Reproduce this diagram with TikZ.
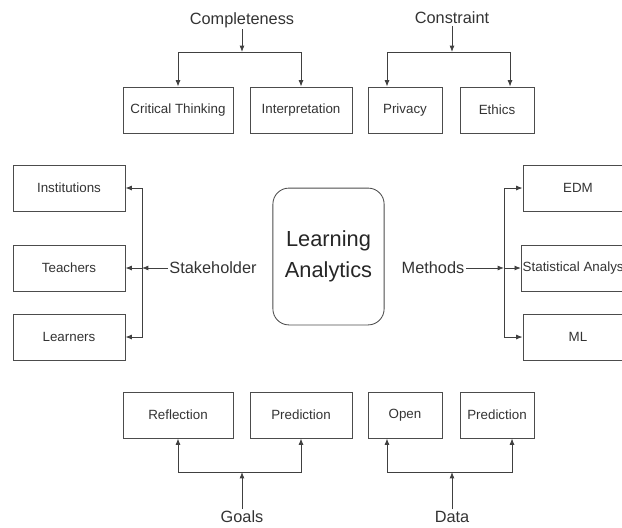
\documentclass[tikz,border=0pt]{standalone}
\usepackage{fontspec}
\setmainfont{Liberation Sans}
\usetikzlibrary{arrows.meta}

\begin{document}
\begin{tikzpicture}[x=0.025cm,y=-0.025cm,
    >={Latex[length=4.5pt,width=3.5pt]},
    line width=0.6pt, draw=black!75,
    box/.style={draw=black!70,minimum height=1.15cm,inner xsep=1pt,font=\fontsize{9.5}{11}\selectfont,text=black!80},
    title/.style={font=\fontsize{11.6}{14}\selectfont,text=black!80,inner sep=1pt}]
            \clip (0,0) rectangle (622,527);
            % top
            \node[title] at (242,20) (comp) {Completeness};
            \node[title] at (452,18) (cons) {Constraint};
            \node[box,minimum width=2.75cm] at (178,110) (crit) {Critical Thinking};
            \node[box,minimum width=2.55cm] at (301,110) (interp) {Interpretation};
            \node[box,minimum width=1.85cm] at (405,110) (priv) {Privacy};
            \node[box,minimum width=1.85cm] at (497,110) (eth) {Ethics};
            \coordinate (cj) at (242,52);
            \coordinate (nj) at (452,52);
            \draw[->] (comp) -- (cj);
            \draw[->] (cj) -| (crit);
            \draw[->] (cj) -| (interp);
            \draw[->] (cons) -- (nj);
            \draw[->] (nj) -| ([xshift=-0.45cm]priv.north);
            \draw[->] (nj) -| ([xshift=0.325cm]eth.north);
            % center
            \node[draw=black!70,rounded corners=0.4cm,minimum width=2.78cm,minimum height=3.42cm,
                  align=center,font=\fontsize{15.5}{22}\selectfont,text=black!85] at (328.5,256.5) (la) {Learning\\Analytics};
            % left
            \node[title] at (213,268) (stake) {Stakeholder};
            \node[box,minimum width=2.8cm] at (69,188) (inst) {Institutions};
            \node[box,minimum width=2.8cm] at (69,268) (teach) {Teachers};
            \node[box,minimum width=2.8cm] at (69,337) (learn) {Learners};
            \coordinate (sj) at (142,268);
            \draw[->] (stake) -- (sj);
            \draw[->] (sj) -- (teach);
            \draw[->] (sj) |- (inst);
            \draw[->] (sj) |- (learn);
            % right
            \node[title] at (433,268) (meth) {Methods};
            \node[box,minimum width=2.75cm] at (578,188) (edm) {EDM};
            \node[box,minimum width=2.75cm] at (578,268) (stat) {Statistical Analysis};
            \node[box,minimum width=2.75cm] at (578,337) (ml) {ML};
            \coordinate (mj) at (504,268);
            \draw[->] (meth) -- (mj);
            \draw[->] (mj) -- (stat);
            \draw[->] (mj) |- (edm);
            \draw[->] (mj) |- (ml);
            % bottom
            \node[title] at (242,517) (goals) {Goals};
            \node[title] at (452,517) (data) {Data};
            \node[box,minimum width=2.75cm] at (178,415) (refl) {Reflection};
            \node[box,minimum width=2.55cm] at (301,415) (pred) {Prediction};
            \node[box,minimum width=1.85cm] at (405,415) (open) {Open};
            \node[box,minimum width=1.85cm] at (497,415) (pred2) {Prediction};
            \coordinate (gj) at (242,472);
            \coordinate (dj) at (452,472);
            \draw[->] (goals) -- (gj);
            \draw[->] (gj) -| (refl);
            \draw[->] (gj) -| (pred);
            \draw[->] (data) -- (dj);
            \draw[->] (dj) -| ([xshift=-0.45cm]open.south);
            \draw[->] (dj) -| ([xshift=0.375cm]pred2.south);
        \end{tikzpicture}
\end{document}
